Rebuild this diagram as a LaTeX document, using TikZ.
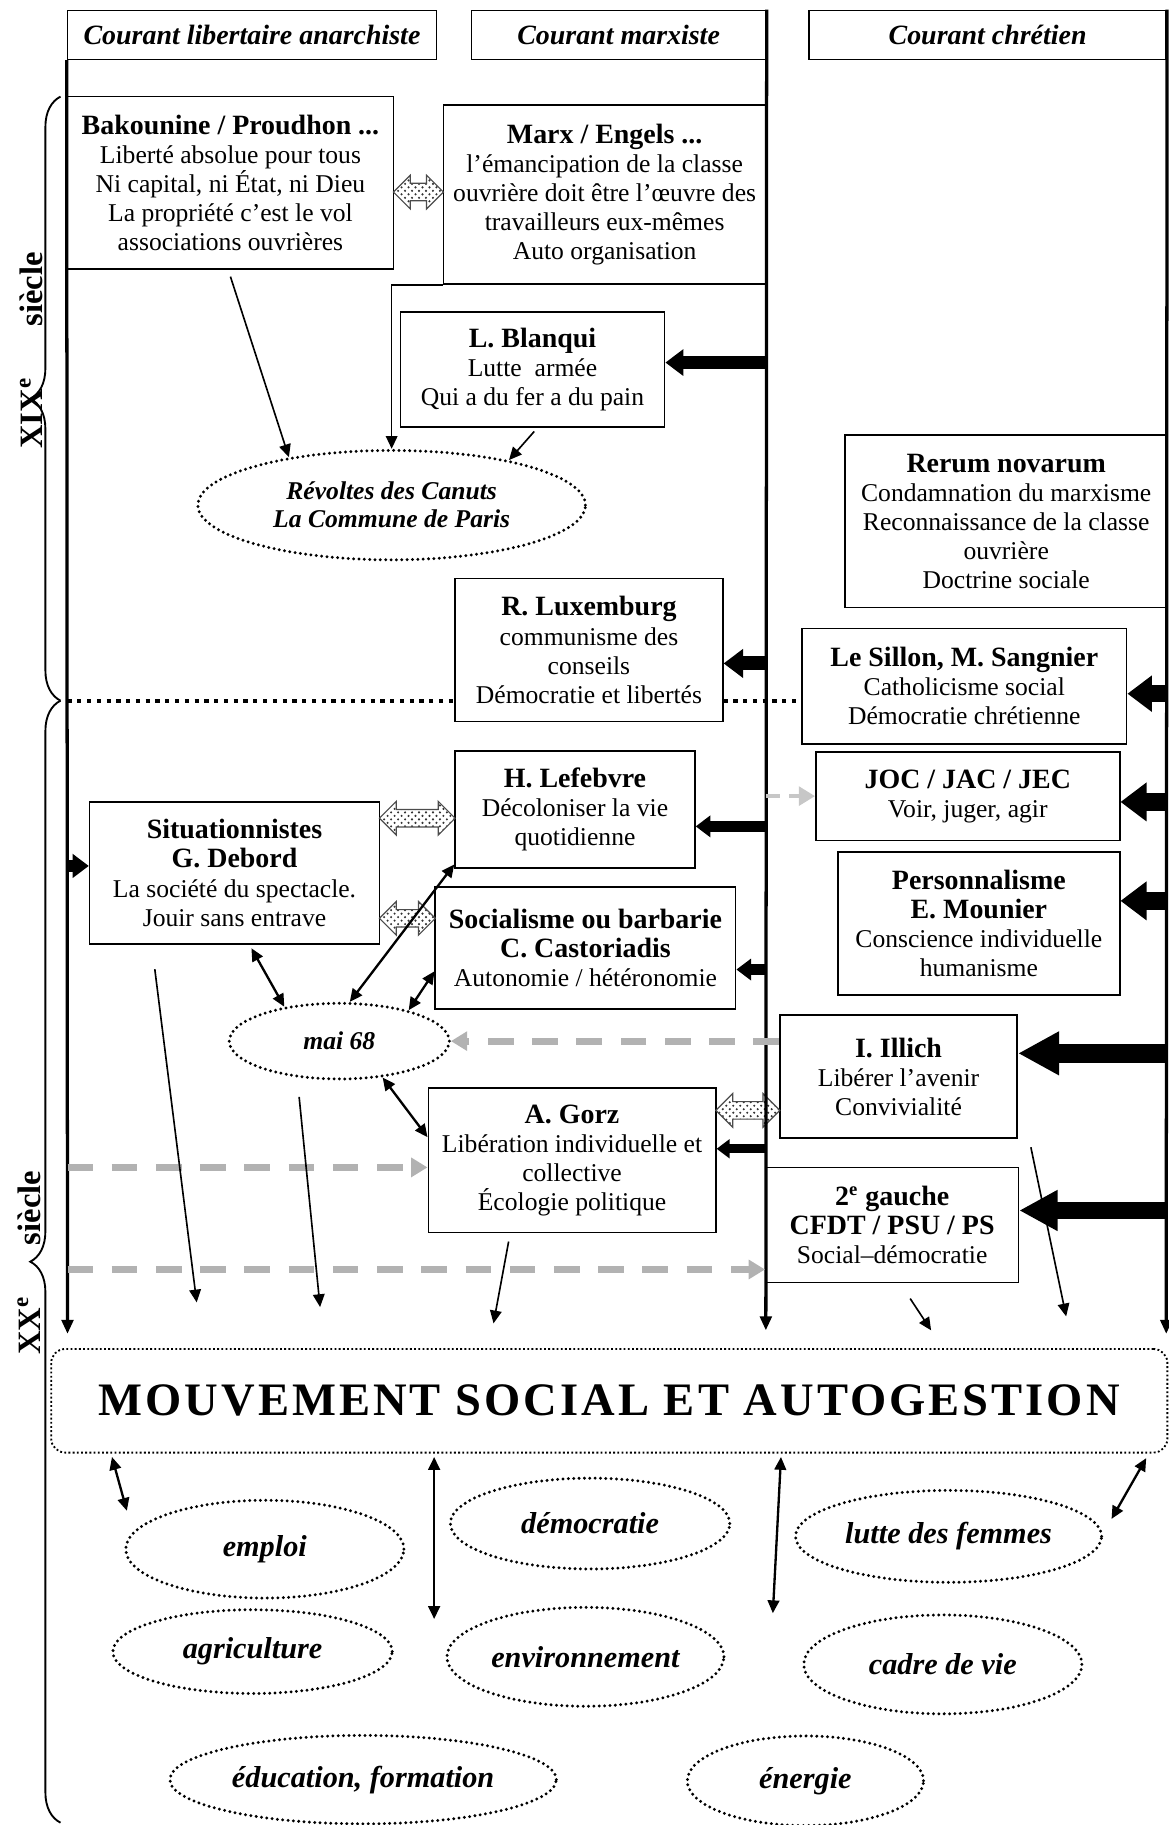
\documentclass[tikz,border=0pt]{standalone}
\usepackage{fontspec}
\setmainfont{Liberation Serif}
\usetikzlibrary{arrows.meta,shapes.geometric,shapes.arrows,patterns,decorations.pathreplacing}

\newcommand{\ttl}[1]{{\fontsize{12}{13}\selectfont\bfseries #1}}

\tikzset{
	box/.style={draw, line width=0.7pt, fill=white, align=center, inner sep=2pt, font=\fontsize{11}{12.5}\selectfont},
	colhead/.style={box, font=\fontsize{12}{14}\selectfont\bfseries\itshape},
	bubble/.style={ellipse, draw, fill=white, line width=1.4pt, line cap=round, dash pattern=on 0pt off 2.3pt, inner sep=0pt, align=center, font=\fontsize{13}{14}\selectfont\bfseries\itshape},
	smallbubble/.style={bubble, font=\fontsize{11}{12}\selectfont\bfseries\itshape},
	banner/.style={draw, rounded corners=6pt, line width=0.8pt, densely dotted, font=\fontsize{20}{24}\selectfont\bfseries\addfontfeature{LetterSpace=6.5}},
	spine/.style={line width=1.4pt, -{Triangle[length=6pt, width=5pt]}},
	fat/.style={line width=#1, -{Triangle[length=0pt 1.4, width=0pt 2]}},
	fatlong/.style={line width=#1, -{Triangle[length=0pt 2.2, width=0pt 2.2]}},
	link/.style={line width=0.7pt, -{Triangle[length=5.5pt, width=5pt]}},
	both/.style={line width=1pt, {Triangle[length=5.5pt, width=5pt]}-{Triangle[length=5.5pt, width=5pt]}},
	ghost/.style={draw=black!30, line width=3pt, dash pattern=on 11pt off 8pt, -{Triangle[length=7pt, width=8pt]}},
	twin/.style={double arrow, draw=black!70, line width=0.5pt, pattern=crosshatch dots, pattern color=black!80, inner xsep=0pt, inner ysep=3.5pt, double arrow head extend=3.5pt},
	sepline/.style={line width=1.8pt, dash pattern=on 1.8pt off 2.4pt},
	century/.style={rotate=90, font=\fontsize{14}{14}\selectfont\bfseries},
}

\begin{document}
\begin{tikzpicture}[x=0.5pt, y=-0.5pt]
	\useasboundingbox (0,0) rectangle (1004,1568);
	% Column headers
	\node[colhead, minimum width=158.5pt, minimum height=21pt] (h1) at (216.5,30) {Courant libertaire anarchiste};
	\node[colhead, minimum width=126.5pt, minimum height=21pt] (h2) at (531.5,30) {Courant marxiste};
	\node[colhead, minimum width=153.5pt, minimum height=21pt] (h3) at (848.5,30) {Courant chrétien};
	% XIXe century
	\node[box, minimum width=140pt, minimum height=74pt] (bak) at (198,157) {\ttl{Bakounine / Proudhon ...}\\Liberté absolue pour tous\\Ni capital, ni État, ni Dieu\\La propriété c'est le vol\\associations ouvrières};
	\node[box, minimum width=138.5pt, minimum height=77pt] (marx) at (519.5,167) {\ttl{Marx / Engels ...}\\l'émancipation de la classe\\ouvrière doit être l'œuvre des\\travailleurs eux-mêmes\\Auto organisation};
	\node[box, minimum width=113.5pt, minimum height=49.5pt] (blanqui) at (457.5,317.5) {\ttl{L. Blanqui}\\Lutte\ \ armée\\Qui a du fer a du pain};
	\node[smallbubble, minimum width=166.5pt, minimum height=47pt] (revoltes) at (336.5,434) {Révoltes des Canuts\\La Commune de Paris};
	\node[box, minimum width=138.5pt, minimum height=74pt] (rerum) at (864.5,448) {\ttl{Rerum novarum}\\Condamnation du marxisme\\Reconnaissance de la classe\\ouvrière\\Doctrine sociale};
	\node[box, minimum width=115pt, minimum height=61.5pt] (lux) at (506,558.5) {\ttl{R. Luxemburg}\\communisme des\\conseils\\Démocratie et libertés};
	\node[box, minimum width=139.5pt, minimum height=49.5pt] (sillon) at (828.5,589.5) {\ttl{Le Sillon, M. Sangnier}\\Catholicisme social\\Démocratie chrétienne};
	% XXe century
	\node[box, minimum width=103pt, minimum height=50.5pt] (lefebvre) at (494,695.5) {\ttl{H. Lefebvre}\\Décoloniser la vie\\quotidienne};
	\node[box, minimum width=130.5pt, minimum height=38pt] (joc) at (831.5,684) {\ttl{JOC / JAC / JEC}\\Voir, juger, agir};
	\node[box, minimum width=124.5pt, minimum height=61pt] (situ) at (201.5,750) {\ttl{Situationnistes}\\\ttl{G. Debord}\\La société du spectacle.\\Jouir sans entrave};
	\node[box, minimum width=129pt, minimum height=52.5pt] (sob) at (503,814.5) {\ttl{Socialisme ou barbarie}\\\ttl{C. Castoriadis}\\Autonomie / hétéronomie};
	\node[box, minimum width=121pt, minimum height=61.5pt] (perso) at (841,793.5) {\ttl{Personnalisme}\\\ttl{E. Mounier}\\Conscience individuelle\\humanisme};
	\node[smallbubble, minimum width=94.5pt, minimum height=32.5pt] (mai) at (291.5,894.5) {mai 68};
	\node[box, minimum width=102pt, minimum height=53pt] (illich) at (772,925) {\ttl{I. Illich}\\Libérer l'avenir\\Convivialité};
	\node[box, minimum width=123.5pt, minimum height=62pt] (gorz) at (491.5,997) {\ttl{A. Gorz}\\Libération individuelle et\\collective\\Écologie politique};
	\node[box, minimum width=108.5pt, minimum height=49.5pt] (gauche) at (766.5,1052.5) {\ttl{2\textsuperscript{e} gauche}\\\ttl{CFDT / PSU / PS}\\Social--démocratie};
	% Movement and its fields
	\node[banner, minimum width=479.5pt, minimum height=44.5pt] (mvt) at (523.5,1203.5) {MOUVEMENT SOCIAL ET AUTOGESTION};
	\node[bubble, minimum width=119.5pt, minimum height=42pt] (emploi) at (227.5,1331) {emploi};
	\node[bubble, minimum width=120pt, minimum height=39pt] (demo) at (507,1309) {démocratie};
	\node[bubble, minimum width=131.5pt, minimum height=39.5pt] (femmes) at (815,1320) {lutte des femmes};
	\node[bubble, minimum width=120pt, minimum height=36pt] (agri) at (217,1419) {agriculture};
	\node[bubble, minimum width=119pt, minimum height=42.5pt] (envir) at (503,1423.5) {environnement};
	\node[bubble, minimum width=119.5pt, minimum height=42.5pt] (cadre) at (810,1430) {cadre de vie};
	\node[bubble, minimum width=166pt, minimum height=38pt] (educ) at (312,1529) {éducation, formation};
	\node[bubble, minimum width=101.5pt, minimum height=38.5pt] (energie) at (692,1530) {énergie};
	% Hatched links
	\node[twin, minimum height=21.5pt] (t1) at (359.5,165) {};
	\node[twin, minimum height=32.5pt] (t2) at (358.5,703) {};
	\node[twin, minimum height=24pt] (t3) at (350,789) {};
	\node[twin, minimum height=27.5pt] (t4) at (642.5,954) {};
	% Centuries
	\draw[decorate, decoration={brace, amplitude=13pt}, line width=0.8pt] (52,602) -- (52,83);
	\draw[decorate, decoration={brace, amplitude=13pt}, line width=0.8pt] (52,1566) -- (52,602);
	\node[century] (xix) at (27,301) {XIX\textsuperscript{e}\hspace{22pt}siècle};
	\node[century] (xx) at (25,1085) {XX\textsuperscript{e}\hspace{22pt}siècle};
	\coordinate (sep) at (58,602);
	\draw[sepline] (sep) -- (sep -| lux.west);
	\draw[sepline] (sep -| lux.east) -- (sep -| sillon.west);
	% Draw spines
	\coordinate (lbot) at (58,1146);
	\coordinate (mbot) at (658,1143);
	\coordinate (rbot) at (1002,1146);
	\draw[spine] (h1.south west) -- (lbot);
	\draw[spine] (h2.north east) -- (mbot);
	\draw[spine] (h3.north east) -- (rbot);
	% Thick arrows from the spines
	\draw[fat=5.5pt] ([yshift=3pt]blanqui.east -| mbot) -- ([yshift=3pt]blanqui.east);
	\draw[fat=6pt] ([yshift=-5.75pt]lux.east -| mbot) -- ([yshift=-5.75pt]lux.east);
	\draw[fat=4.5pt] ([yshift=-7.25pt]lefebvre.east -| mbot) -- ([yshift=-7.25pt]lefebvre.east);
	\draw[fat=4.5pt] ([yshift=-9.25pt]sob.east -| mbot) -- ([yshift=-9.25pt]sob.east);
	\draw[fat=4pt] ([yshift=5pt]gorz.east -| mbot) -- ([yshift=5pt]gorz.east);
	\draw[fat=7.5pt] ([yshift=-3.25pt]sillon.east -| rbot) -- ([yshift=-3.25pt]sillon.east);
	\draw[fat=8pt] ([yshift=-2.5pt]joc.east -| rbot) -- ([yshift=-2.5pt]joc.east);
	\draw[fat=8pt] ([yshift=9.75pt]perso.east -| rbot) -- ([yshift=9.75pt]perso.east);
	\draw[fatlong=8pt] ([yshift=10pt]illich.east -| rbot) -- ([yshift=10pt]illich.east);
	\draw[fatlong=7.5pt] ([yshift=6.25pt]gauche.east -| rbot) -- ([yshift=6.25pt]gauche.east);
	\draw[fat=5pt] ([yshift=3pt]situ.west -| lbot) -- ([yshift=3pt]situ.west);
	% Grey dashed influences
	\draw[ghost, draw=black!22, line width=2pt, dash pattern=on 6pt off 4pt] (joc.west -| mbot) -- (joc.west);
	\draw[ghost] (illich.west |- mai.east) -- (mai.east);
	\draw[ghost] ([yshift=-3pt]gorz.west -| lbot) -- ([yshift=-3pt]gorz.west);
	\draw[ghost] ([yshift=6pt]gauche.south west -| lbot) -- ([yshift=6pt]gauche.south west);
	% Thin links
	\draw[link] ([yshift=-3pt]bak.south) -- (revoltes.155);
	\draw[link] (marx.south west) -| (revoltes.north);
	\draw[link] ([shift={(1.5,3)}]blanqui.south) -- (revoltes.21);
	\draw[both] ([shift={(14.5,3)}]situ.south) -- (mai.148);
	\draw[both] (mai.75) -- ([yshift=2pt]lefebvre.south west);
	\draw[both] (mai.24) -- ([yshift=-10pt]sob.west);
	\draw[both] (mai.-40) -- ([yshift=10pt]gorz.west);
	% Arrows towards the movement
	\coordinate (e1) at (169,1119);
	\coordinate (e2) at (275,1123);
	\coordinate (e3) at (424,1137);
	\coordinate (e4) at (800,1143);
	\coordinate (e5) at (916,1131);
	\draw[link] ([shift={(-68.5,21)}]situ.south) -- (e1);
	\draw[link] ([shift={(-34.5,14)}]mai.south) -- (e2);
	\draw[link] ([shift={(-54.5,7)}]gorz.south) -- (e3);
	\draw[link] ([shift={(15.5,13)}]gauche.south) -- (e4);
	\draw[link] ([shift={(11,7)}]illich.south east) -- (e5);
	% Arrows from the movement
	\coordinate (b1) at (109,1298);
	\coordinate (b2) at (373,1391);
	\coordinate (b3) at (664,1386);
	\coordinate (b4) at (955,1305);
	\draw[both] ([shift={(53,3)}]mvt.south west) -- (b1);
	\draw[both] ([shift={(-150.5,3)}]mvt.south) -- (b2);
	\draw[both] ([shift={(147.5,3)}]mvt.south) -- (b3);
	\draw[both] ([shift={(-19,4)}]mvt.south east) -- (b4);
\end{tikzpicture}
\end{document}
